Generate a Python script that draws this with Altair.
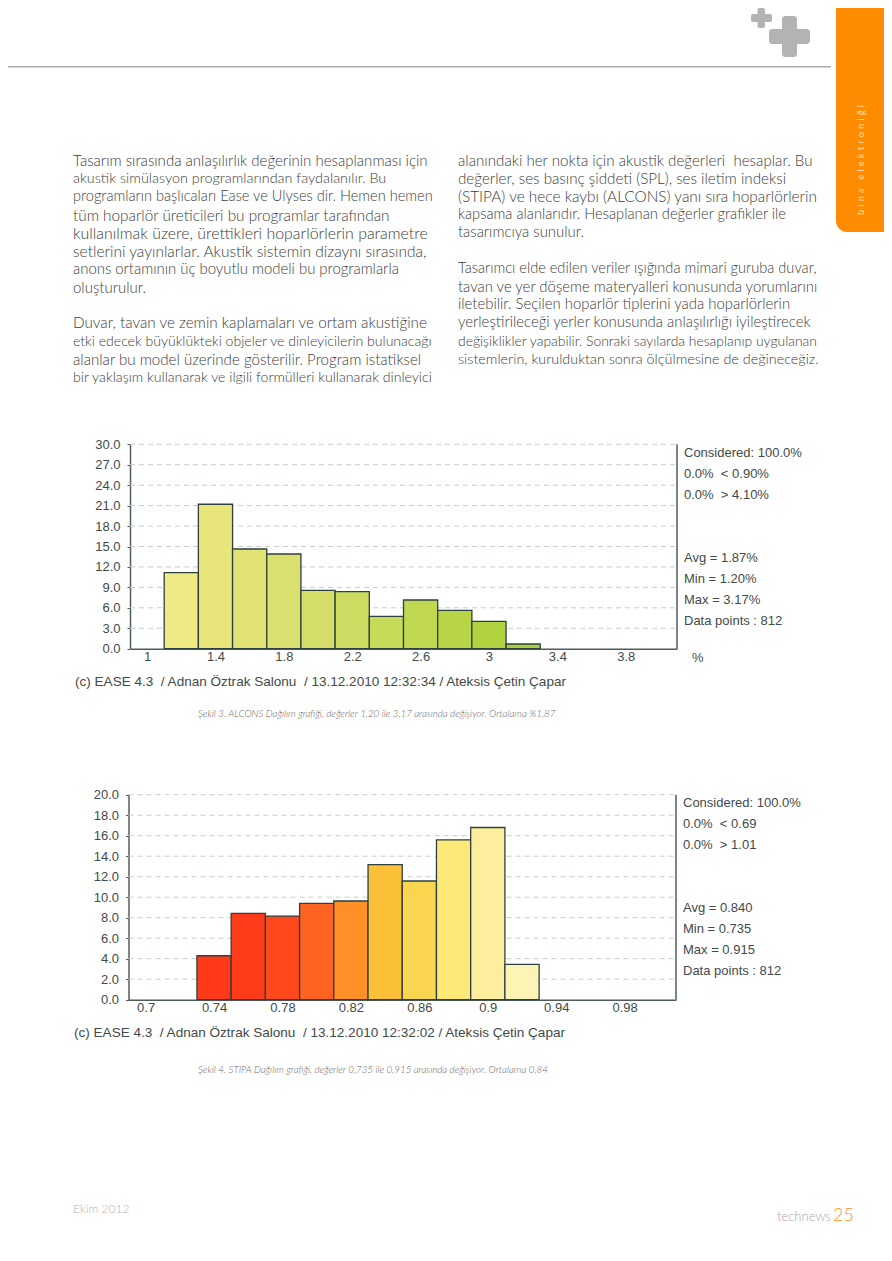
import altair as alt
import pandas as pd

W, H = 876, 1245
M = 8

# ---------- data ----------
alcons_centers = [1.2, 1.4, 1.6, 1.8, 2.0, 2.2, 2.4, 2.6, 2.8, 3.0, 3.2]
alcons_values = [11.16, 21.2, 14.63, 13.9, 8.56, 8.37, 4.75, 7.15, 5.63, 4.0, 0.69]
alcons_colors = ["#F0EA85", "#E8E67A", "#E1E374", "#DBE06E", "#D4DE68", "#CDDC61",
                 "#C8DB58", "#BFD84F", "#B8D548", "#B2D340", "#AACF3A"]
alcons_xticks = [1, 1.4, 1.8, 2.2, 2.6, 3, 3.4, 3.8]
alcons_yticks = [0, 3, 6, 9, 12, 15, 18, 21, 24, 27, 30]

stipa_centers = [0.74, 0.76, 0.78, 0.80, 0.82, 0.84, 0.86, 0.88, 0.90, 0.92]
stipa_values = [4.29, 8.42, 8.16, 9.4, 9.63, 13.17, 11.58, 15.6, 16.8, 3.45]
stipa_colors = ["#FF3A18", "#FF3C1A", "#FF481C", "#FF6322", "#FF9028", "#FCC038",
                "#FAD550", "#FCE977", "#FCEE9C", "#FBF4B4"]
stipa_xticks = [0.7, 0.74, 0.78, 0.82, 0.86, 0.9, 0.94, 0.98]
stipa_yticks = [0, 2, 4, 6, 8, 10, 12, 14, 16, 18, 20]

alcons_stats_a = ["Considered: 100.0%", "0.0%  < 0.90%", "0.0%  > 4.10%"]
alcons_stats_b = ["Avg = 1.87%", "Min = 1.20%", "Max = 3.17%", "Data points : 812"]
stipa_stats_a = ["Considered: 100.0%", "0.0%  < 0.69", "0.0%  > 1.01"]
stipa_stats_b = ["Avg = 0.840", "Min = 0.735", "Max = 0.915", "Data points : 812"]

left_a = ["Tasarım sırasında anlaşılırlık değerinin hesaplanması için",
          "akustik simülasyon programlarından faydalanılır. Bu",
          "programların başlıcaları Ease ve Ulyses dir. Hemen hemen",
          "tüm hoparlör üreticileri bu programlar tarafından",
          "kullanılmak üzere, ürettikleri hoparlörlerin parametre",
          "setlerini yayınlarlar. Akustik sistemin dizaynı sırasında,",
          "anons ortamının üç boyutlu modeli bu programlarla",
          "oluşturulur."]
left_b = ["Duvar, tavan ve zemin kaplamaları ve ortam akustiğine",
          "etki edecek büyüklükteki objeler ve dinleyicilerin bulunacağı",
          "alanlar bu model üzerinde gösterilir. Program istatiksel",
          "bir yaklaşım kullanarak ve ilgili formülleri kullanarak dinleyici"]
right_a = ["alanındaki her nokta için akustik değerleri  hesaplar. Bu",
           "değerler, ses basınç şiddeti (SPL), ses iletim indeksi",
           "(STIPA) ve hece kaybı (ALCONS) yanı sıra hoparlörlerin",
           "kapsama alanlarıdır. Hesaplanan değerler grafikler ile",
           "tasarımcıya sunulur."]
right_b = ["Tasarımcı elde edilen veriler ışığında mimari guruba duvar,",
           "tavan ve yer döşeme materyalleri konusunda yorumlarını",
           "iletebilir. Seçilen hoparlör tiplerini yada hoparlörlerin",
           "yerleştirileceği yerler konusunda anlaşılırlığı iyileştirecek",
           "değişiklikler yapabilir. Sonraki sayılarda hesaplanıp uygulanan",
           "sistemlerin, kurulduktan sonra ölçülmesine de değineceğiz."]

cap_a = "(c) EASE 4.3  / Adnan Öztrak Salonu  / 13.12.2010 12:32:34 / Ateksis Çetin Çapar"
cap_b = "(c) EASE 4.3  / Adnan Öztrak Salonu  / 13.12.2010 12:32:02 / Ateksis Çetin Çapar"
fig_a = "Şekil 3. ALCONS Dağılım grafiği, değerler 1,20 ile 3,17 arasında değişiyor. Ortalama %1,87"
fig_b = "Şekil 4. STIPA Dağılım grafiği, değerler 0,735 ile 0,915 arasında değişiyor. Ortalama 0,84"

# ---------- helpers ----------
ONE = alt.Data(values=[{"a": 1}])
BODY = "Lato"
SYS = "Liberation Sans"
INK = "#3F4A4A"


def label(txt, x, y, size=13, font=SYS, color=INK, align="left", **kw):
    return alt.Chart(ONE).mark_text(text=txt.replace("  ", "\u00a0 "), font=font, fontSize=size,
                                    color=color, align=align, baseline="middle", **kw).encode(
        x=alt.value(x - M), y=alt.value(y - M))


def block(x0, y0, x1, y1, color, **kw):
    return alt.Chart(ONE).mark_rect(color=color, **kw).encode(
        x=alt.value(max(x0 - M, 0)), x2=alt.value(x1 - M),
        y=alt.value(max(y0 - M, 0)), y2=alt.value(y1 - M))


def histogram(centers, values, colors, width, xticks, yticks, yfmt, xdom, xpx, ypx,
              stats_a, stats_b, stat_x, ya, yb, caption, cap_x, cap_y, unit=None):
    labels = [str(c) for c in centers]
    df = pd.DataFrame({
        "start": [c - width / 2 for c in centers],
        "end": [c + width / 2 for c in centers],
        "value": values,
        "bin": labels,
    })
    xs = alt.Scale(domain=xdom, range=[xpx[0] - M, xpx[1] - M], nice=False, zero=False)
    ys = alt.Scale(domain=[yticks[0], yticks[-1]], range=[ypx[0] - M, ypx[1] - M], nice=False)
    xa = alt.Axis(values=xticks, format="~g", ticks=False, grid=False, title=None, orient="bottom",
                  domainColor="#4F5C5C", domainWidth=1.5, labelFont=SYS, labelFontSize=13,
                  labelColor=INK, labelPadding=2, labelOverlap=False, labelFlush=False,
                  offset=ypx[0] - M - H)
    ya_ = alt.Axis(values=yticks, format=yfmt, grid=False, title=None, tickSize=3, orient="left",
                   tickColor="#4F5C5C", domainColor="#4F5C5C", domainWidth=1.5,
                   labelFont=SYS, labelFontSize=13, labelColor=INK, labelPadding=7,
                   labelOverlap=False, labelFlush=False, offset=-(xpx[0] - M))
    grid_df = pd.DataFrame({"y": yticks[1:], "x0": xdom[0], "x1": xdom[1]})
    frame_df = pd.DataFrame({"x": [xdom[1]], "y0": [yticks[0]], "y1": [yticks[-1]]})

    grid = alt.Chart(grid_df).mark_rule(color="#C8CCCC", strokeWidth=1, strokeDash=[5, 4]).encode(
        x=alt.X("x0:Q", scale=xs, axis=xa), x2="x1:Q", y=alt.Y("y:Q", scale=ys, axis=ya_))
    frame = alt.Chart(frame_df).mark_rule(color="#4F5C5C", strokeWidth=1.5).encode(
        x=alt.X("x:Q", scale=xs, axis=xa), y=alt.Y("y0:Q", scale=ys, axis=ya_), y2="y1:Q")
    bars = alt.Chart(df).mark_rect(stroke="#2F4040", strokeWidth=1.3).encode(
        x=alt.X("start:Q", scale=xs, axis=xa),
        x2="end:Q",
        y=alt.Y("value:Q", scale=ys, axis=ya_),
        y2=alt.Y2(datum=0),
        color=alt.Color("bin:N", scale=alt.Scale(domain=labels, range=colors), legend=None),
    )
    parts = [grid, frame, bars]
    for i, t in enumerate(stats_a):
        parts.append(label(t, stat_x, ya + i * 21))
    for i, t in enumerate(stats_b):
        parts.append(label(t, stat_x, yb + i * 21))
    parts.append(label(caption, cap_x, cap_y, size=13.55))
    if unit:
        parts.append(label(unit, 692, ypx[0] + 9))
    return alt.layer(*parts)


hist_a = histogram(alcons_centers, alcons_values, alcons_colors, 0.2,
                   alcons_xticks, alcons_yticks, ".1f", [0.9, 4.1], (130, 677), (648.7, 444.3),
                   alcons_stats_a, alcons_stats_b, 684, 452.7, 557.7, cap_a, 75, 682, unit="%")
hist_b = histogram(stipa_centers, stipa_values, stipa_colors, 0.02,
                   stipa_xticks, stipa_yticks, ".1f", [0.69, 1.01], (128.5, 676), (999.7, 794.7),
                   stipa_stats_a, stipa_stats_b, 683, 803.3, 908, cap_b, 74, 1033)

# ---------- page furniture ----------
tab_text = "\u2004".join("bina elektroniği")
page = [
    block(0, 66, 831, 67.5, "#ABABAB"),
    block(836, 0, 892, 232, "#FF8C00", cornerRadiusBottomLeft=11),
    block(751, 14, 772, 22, "#B3B3B3", cornerRadius=2),
    block(757.5, 7, 765, 28, "#B3B3B3", cornerRadius=2),
    block(769, 29, 810, 44, "#B3B3B3", cornerRadius=3),
    block(782, 16, 797, 57, "#B3B3B3", cornerRadius=3),
    label(tab_text, 861, 160, size=9.4, font=BODY, color="#FFE2BC", align="center", angle=270),
    label(fig_a, 198, 714, size=9.76, font=BODY, color="#666666", fontStyle="italic", fontWeight=300),
    label(fig_b, 198, 1070, size=9.76, font=BODY, color="#666666", fontStyle="italic", fontWeight=300),
    label("Ekim 2012", 73, 1209, size=12.1, font=BODY, color="#B4B4B4", fontWeight=300),
    label("technews", 777, 1217, size=13, font=BODY, color="#A8A8A8", fontWeight=300),
    label("25", 833, 1216, size=18, font=BODY, color="#FF9010", fontWeight=300),
]

for lines, x, ys, sizes in [
    (left_a, 73, [160.7, 179.0, 197.4, 215.5, 233.5, 252.0, 270.0, 287.7],
     [15.04, 14.4, 14.6, 15.3, 15.9, 15.5, 14.9, 15.0]),
    (left_b, 73, [323.3, 341.7, 360.0, 378.3], [15.25, 14.05, 15.1, 14.15]),
    (right_a, 458, [161.0, 179.0, 197.0, 215.0, 233.0], [15.15, 15.2, 15.4, 14.7, 14.9]),
    (right_b, 458, [269.0, 287.5, 305.0, 323.0, 342.0, 360.0], [14.6, 14.9, 14.9, 14.9, 13.9, 14.4]),
]:
    for t, y, s in zip(lines, ys, sizes):
        page.append(label(t, x, y, size=s, font=BODY, color="#3C3C3C", fontWeight=300))

chart = alt.layer(*page, hist_a, hist_b).resolve_scale(
    x="independent", y="independent", color="independent"
).properties(
    width=W, height=H, padding=0, autosize=alt.AutoSizeParams(type="none"), background="white"
).configure_view(stroke=None)

chart.save("out.html", embed_options={"renderer": "svg", "actions": False})
